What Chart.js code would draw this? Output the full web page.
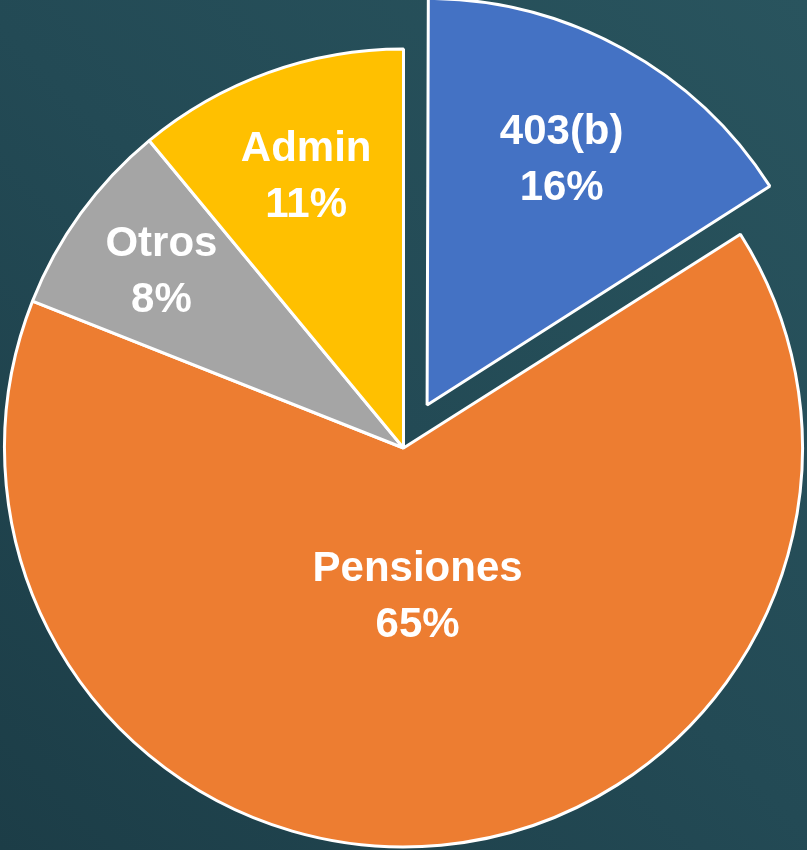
<!DOCTYPE html>
<html lang="es">
    <head>
        <meta charset="utf-8" />
        <title>Distribución</title>
        <style>
            html,
            body {
                margin: 0;
                padding: 0;
                overflow: hidden;
            }
            body {
                width: 807px;
                height: 850px;
                background: linear-gradient(
                    45deg,
                    #1c3d47 0%,
                    #234a55 50%,
                    #29545e 100%
                );
            }
            .chart-wrap {
                position: relative;
                width: 807px;
                height: 850px;
            }
        </style>
    </head>
    <body>
        <div class="chart-wrap">
            <canvas id="pieChart"></canvas>
        </div>

        <script src="https://cdn.jsdelivr.net/npm/chart.js"></script>
        <script>
            const labels = ["403(b)", "Pensiones", "Otros", "Admin"];
            const shares = [16, 65, 8, 11];
            const sliceColors = ["#4472c4", "#ed7d31", "#a5a5a5", "#ffc000"];
            const explode = [196, 0, 0, 0];

            // draws "name / pct%" inside each slice, at a fraction of the radius
            const sliceLabels = {
                id: "sliceLabels",
                afterDatasetsDraw(chart, args, opts) {
                    const ctx = chart.ctx;
                    const meta = chart.getDatasetMeta(0);
                    ctx.save();
                    ctx.fillStyle = opts.color;
                    ctx.font = opts.font;
                    ctx.textAlign = "center";
                    ctx.textBaseline = "middle";
                    meta.data.forEach((arc, i) => {
                        const p = arc.getProps(
                            ["x", "y", "startAngle", "endAngle", "outerRadius"],
                            true
                        );
                        const mid = (p.startAngle + p.endAngle) / 2;
                        const shift = (arc.options.offset || 0) / 4;
                        const r = shift + opts.radius[i] * p.outerRadius;
                        const x = p.x + Math.cos(mid) * r;
                        const y = p.y + Math.sin(mid) * r;
                        const dy = opts.lineHeight / 2;
                        ctx.fillText(labels[i], x, y - dy);
                        ctx.fillText(shares[i] + "%", x, y + dy);
                    });
                    ctx.restore();
                },
            };

            new Chart(document.getElementById("pieChart"), {
                type: "pie",
                data: {
                    labels: labels,
                    datasets: [
                        {
                            data: shares,
                            backgroundColor: sliceColors,
                            borderColor: "#ffffff",
                            borderWidth: 3,
                            offset: explode,
                            hoverOffset: 0,
                        },
                    ],
                },
                options: {
                    responsive: true,
                    maintainAspectRatio: false,
                    animation: false,
                    radius: 399,
                    layout: {
                        padding: { top: 46, bottom: 0, left: 0, right: 0 },
                    },
                    plugins: {
                        legend: { display: false },
                        tooltip: { enabled: false },
                        sliceLabels: {
                            color: "#ffffff",
                            font: "bold 42px 'Liberation Sans', Arial, sans-serif",
                            lineHeight: 56,
                            radius: [0.7, 0.375, 0.75, 0.72],
                        },
                    },
                },
                plugins: [sliceLabels],
            });
        </script>
    </body>
</html>
